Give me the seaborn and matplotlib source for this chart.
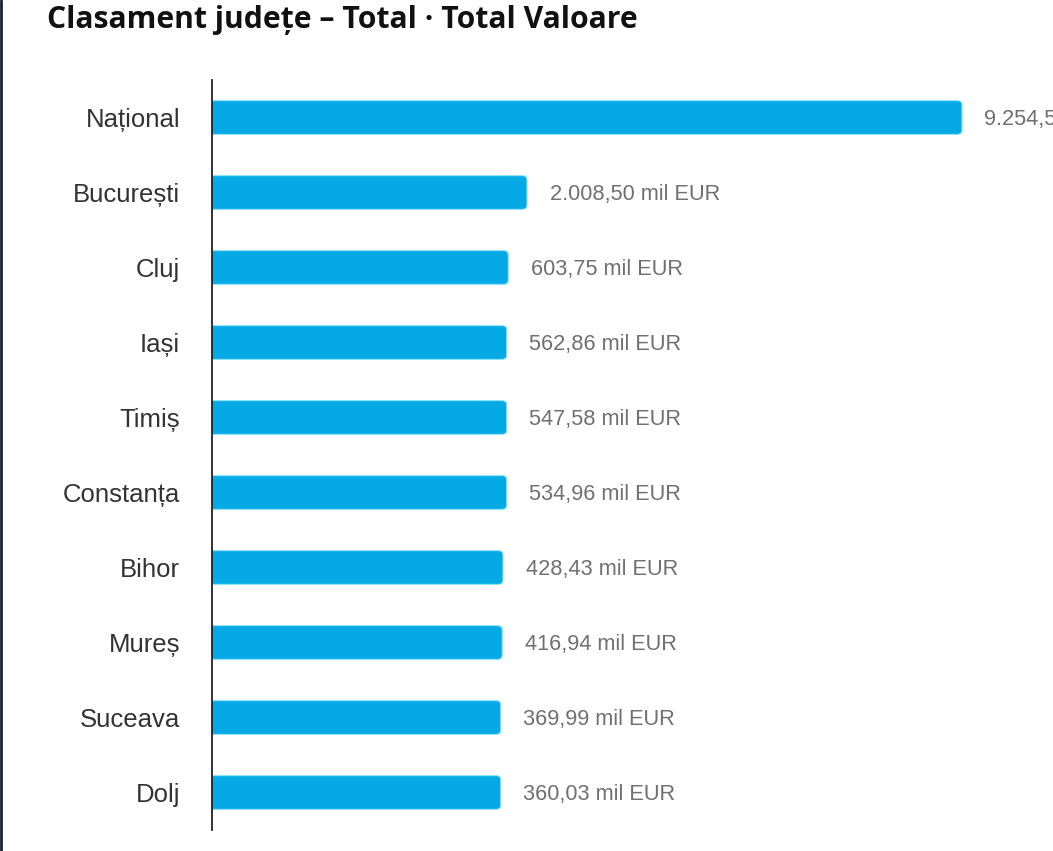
import numpy as np
import pandas as pd
import seaborn as sns
import matplotlib.pyplot as plt
from matplotlib.patches import FancyBboxPatch
from matplotlib.lines import Line2D

# Date
judete = ['Național', 'București', 'Cluj', 'Iași', 'Timiș', 'Constanța',
          'Bihor', 'Mureș', 'Suceava', 'Dolj']
valori_mil_eur = [9254.54, 2008.50, 603.75, 562.86, 547.58, 534.96,
                  428.43, 416.94, 369.99, 360.03]
# lungimea barelor asa cum apare in grafic (% din bara Național)
lungime_bara = [100.0, 42.0, 39.5, 39.3, 39.3, 39.3, 38.8, 38.7, 38.5, 38.5]

titlu = 'Clasament județe – Total · Total Valoare'


def fmt_ro(v):
    s = f"{v:,.2f}"
    s = s.replace(',', 'X').replace('.', ',').replace('X', '.')
    return f"{s} mil EUR"


df = pd.DataFrame({'judet': judete, 'valoare': valori_mil_eur, 'lungime': lungime_bara})

sns.set_theme(style='white')
plt.rcParams['font.family'] = ['Liberation Sans', 'DejaVu Sans']

fig = plt.figure(figsize=(10.53, 8.51), dpi=100)
ax = fig.add_axes([212 / 1053, 1 - 830 / 851, 1 - 212 / 1053, 750 / 851])

culoare = '#05a9e6'
sns.barplot(data=df, x='lungime', y='judet', orient='h', color=culoare,
            width=0.45, saturation=1, ax=ax)

# bare cu colturi rotunjite
ax.set_xlim(0, 841 / 7.5)
ax.set_ylim(9.5, -0.5)
for p in list(ax.patches):
    x, y = p.get_x(), p.get_y()
    w, h = p.get_width(), p.get_height()
    rb = FancyBboxPatch((x - 1, y), w + 1, h,
                        boxstyle='round,pad=0,rounding_size=0.6',
                        mutation_aspect=0.1,
                        facecolor=culoare, edgecolor='#8be4fb', linewidth=0.8)
    p.remove()
    ax.add_patch(rb)

# etichete valori (Național e taiat de marginea imaginii, ca in original)
for i, row in df.iterrows():
    ax.text(row['lungime'] + 3.0, i + 0.03, fmt_ro(row['valoare']), va='center', ha='left',
            fontsize=15.7, color='#707070', clip_on=False)

ax.set_xticks([])
ax.set_xlabel('')
ax.set_ylabel('')
ax.tick_params(axis='y', length=0, pad=23, labelsize=18.5, labelcolor='#333333')
for s in ['top', 'right', 'bottom']:
    ax.spines[s].set_visible(False)
ax.spines['left'].set_color('#222222')
ax.spines['left'].set_linewidth(1.3)
ax.spines['left'].set_zorder(5)

fig.text(47 / 1053, 1 - 20 / 851, titlu, fontsize=21.7, fontweight='bold',
         family=['Open Sans', 'DejaVu Sans'], color='#111111', va='center', ha='left')

# bordura stanga
fig.add_artist(Line2D([0.001, 0.001], [0, 1], color='#1a2030', linewidth=2,
                      transform=fig.transFigure))

fig.savefig('out.png', dpi=100, facecolor='white')
